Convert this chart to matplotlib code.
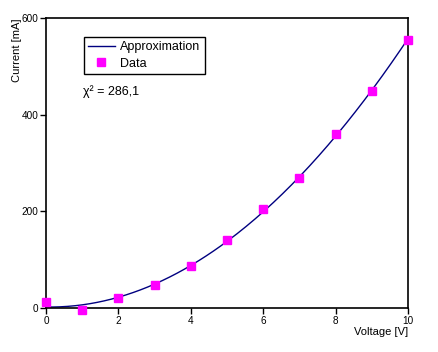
import numpy as np
import matplotlib
matplotlib.use("Agg")
import matplotlib.pyplot as plt

plt.rcParams['font.family'] = ['Liberation Sans', 'DejaVu Sans']

# measured points
voltage = [0, 1, 2, 3, 4, 5, 6, 7, 8, 9, 10]
current = [12, -4, 20, 47, 87, 141, 205, 268, 360, 449, 555]
chi2_label = "\u03c7\u00b2 = 286,1"

x_ticks = [0, 2, 4, 6, 8, 10]
y_ticks = [0, 200, 400, 600]

# quadratic approximation through the data
coef = np.polyfit(voltage, current, 2)
xs = np.linspace(0, 10, 200)
ys = np.polyval(coef, xs)

fig = plt.figure(figsize=(4.39, 3.52), dpi=100)
ax = fig.add_axes([46 / 439, 44 / 352, 362 / 439, 290 / 352])

ax.plot(xs, ys, color='#000080', lw=1, label='Approximation', clip_on=False, zorder=2)
ax.plot(voltage, current, ls='none', marker='s', ms=5.6, color='#ff00ff',
        mec='#ff00ff', label='Data', clip_on=False, zorder=3)

ax.set_xlim(0, 10)
ax.set_ylim(0, 600)
ax.set_xticks(x_ticks)
ax.set_yticks(y_ticks)
ax.tick_params(direction='out', length=4, width=1, labelsize=7.2, pad=1.5)
for s in ax.spines.values():
    s.set_linewidth(1.2)

fig.text(17 / 439, 1 - 18 / 352, 'Current [mA]', rotation=90, ha='center', va='top', fontsize=8)
fig.text(408 / 439, 1 - 332 / 352, 'Voltage [V]', ha='right', va='center', fontsize=8)
fig.text(83 / 439, 1 - 92 / 352, chi2_label, ha='left', va='center', fontsize=9)

leg = fig.legend(loc='upper left', bbox_to_anchor=(84 / 439, 1 - 37 / 352), borderaxespad=0,
                 fontsize=9, fancybox=False, framealpha=1, edgecolor='black',
                 handlelength=2.1, handletextpad=0.45, borderpad=0.35, labelspacing=0.35,
                 markerscale=1.0)
leg.get_frame().set_linewidth(1)

fig.savefig('out.png', dpi=100)
